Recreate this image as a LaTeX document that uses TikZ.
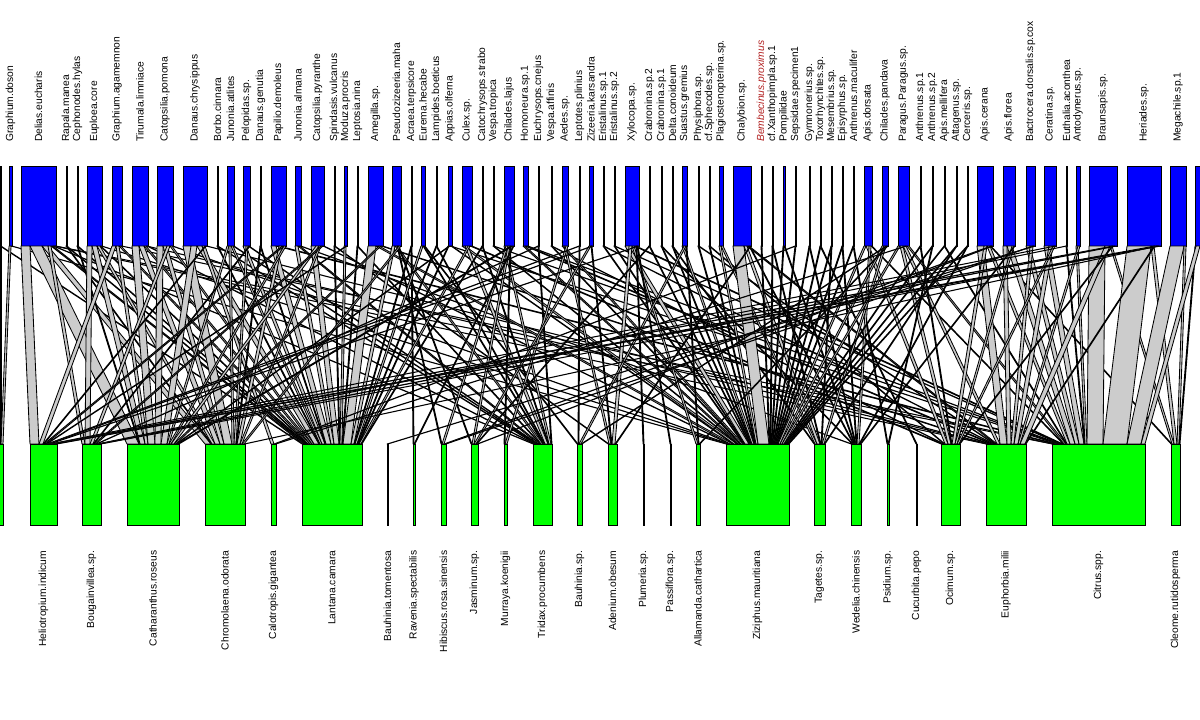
\documentclass[tikz,border=0pt]{standalone}
\usepackage{fontspec}
\setmainfont{Liberation Sans}
\usepackage{tikz}
\usetikzlibrary{calc}
\definecolor{hblue}{HTML}{0000FF}
\definecolor{hgreen}{HTML}{00FF00}
\definecolor{lgrey}{HTML}{CCCCCC}
\definecolor{bemb}{HTML}{B22222}

\begin{document}
\begin{tikzpicture}[x=0.025cm, y=-0.025cm]
    \tikzstyle{tb} = [draw=black, fill=hblue, inner sep=0pt, outer sep=0pt, line width=0.5pt, minimum height=2cm];
    \tikzstyle{bb} = [draw=black, fill=hgreen, inner sep=0pt, outer sep=0pt, line width=0.5pt, minimum height=2.025cm];
    \tikzstyle{tl} = [rotate=90, anchor=west, inner sep=0pt, font=\fontsize{7.3}{8.8}\selectfont];
    \tikzstyle{bl} = [rotate=90, anchor=east, inner sep=0pt, font=\fontsize{7.3}{8.8}\selectfont];
    \tikzstyle{lk} = [draw=black, fill=lgrey, line width=0.6pt, line join=round];
    \useasboundingbox (0,0) rectangle (1200,720);

    % visitors (top)
    \foreach \n/\l/\r/\s in {
      gph/0/1/{}, gdoson/9/12/Graphium.doson, delias/21/56/Delias.eucharis,
      rapala/66/67/Rapala.manea, cephon/77/78/Cephonodes.hylas,
      euploea/87/102/Euploea.core, gagam/112/122/Graphium.agamemnon,
      tirum/132/148/Tirumala.limniace, catpo/157/173/Catopsilia.pomona,
      danch/183/207/Danaus.chrysippus, borbo/217/218/Borbo.cinnara,
      junat/227/234/Junonia.atlites, pelop/243/250/Pelopidas.sp.,
      dange/260/261/Danaus.genutia, papdem/271/286/Papilio.demoleus,
      junal/295/301/Junonia.almana, catpy/311/324/Catopsilia.pyranthe,
      spind/334/335/Spindasis.vulcanus, moduza/344/347/Moduza.procris,
      leptos/357/358/Leptosia.nina, amegil/368/383/Amegilla.sp.,
      pseudo/392/401/Pseudozizeeria.maha, acraea/411/412/Acraea.terpsicore,
      eurema/421/425/Eurema.hecabe, lampid/436/437/Lampides.boeticus,
      appias/448/452/Appias.olferna, culex/462/472/Culex.sp.,
      catoch/482/483/Catochrysops.strabo, vtrop/493/494/Vespa.tropica,
      chilaj/504/514/Chilades.lajus, homon/523/528/Homoneura.sp.1,
      euchry/538/539/Euchrysops.cnejus, vaffin/551/552/Vespa.affinis,
      aedes/562/568/Aedes.sp., leptot/579/580/Leptotes.plinius,
      zizeer/589/593/Zizeeria.karsandra, eris1/603/604/Eristalinus.sp.1,
      eris2/614/615/Eristalinus.sp.2, xyloco/625/639/Xylocopa.sp.,
      crab2/649/650/Crabronina.sp.2, crab1/661/662/Crabronina.sp.1,
      delta/672/673/Delta.conoideum, suast/682/687/Suastus.gremius,
      physi/698/699/Physiphora.sp., sphec/709/710/cf.Sphecodes.sp.,
      plagio/719/723/Plagiostenopterina.sp., chalyb/733/751/Chalybion.sp.,
      bembe/761/762/{\color{bemb}\itshape Bembecinus.proximus},
      xantho/772/773/cf.Xanthopimpla.sp.1, pompil/783/785/Pompilidae,
      sepsid/795/796/Sepsidae.specimen1, gymno/809/810/Gymnonerius.sp.,
      toxor/820/821/Toxorhynchites.sp., mesem/831/832/Mesembrius.sp.,
      episy/842/843/Episyrphus.sp., anthm/853/854/Anthrenus.maculifer,
      apisd/864/872/Apis.dorsata, chipa/882/888/Chilades.pandava,
      paragus/898/909/Paragus.Paragus.sp., anth1/920/921/Anthrenus.sp.1,
      anth2/932/933/Anthrenus.sp.2, apismel/944/945/Apis.mellifera,
      attag/956/957/Attagenus.sp., cerce/967/968/Cerceris.sp.,
      apisce/977/993/Apis.cerana, apisfl/1003/1015/Apis.florea,
      bactro/1026/1035/Bactrocera.dorsalis.sp.cox, ceratina/1044/1056/Ceratina.sp.,
      euthal/1066/1067/Euthalia.aconthea, antody/1076/1080/Antodynerus.sp.,
      brauns/1089/1117/Braunsapis.sp., heriad/1127/1161/Heriades.sp.,
      megach/1170/1186/Megachile.sp.1, rt/1195/1205/{}}{
      \node (\n) at ({(\l+\r)/2},206) [tb, minimum width={(\r-\l)*0.025cm}] {};
      \node (\n-l) at ({(\l+\r)/2},142) [tl] {\s};
    }

    % plants (bottom)
    \foreach \n/\l/\r/\s in {
      lft/-5/3/{}, helio/30/57/Heliotropium.indicum, bouga/82/101/Bougainvillea.sp.,
      catha/127/179/Catharanthus.roseus, chrom/205/245/Chromolaena.odorata,
      calot/271/276/Calotropis.gigantea, lanta/302/362/Lantana.camara,
      bauto/387/388/Bauhinia.tomentosa, raven/413/415/Ravenia.spectabilis,
      hibis/441/446/Hibiscus.rosa.sinensis, jasmi/471/478/Jasminum.sp.,
      murra/504/507/Murraya.koenigii, tridax/533/552/Tridax.procumbens,
      bausp/577/582/Bauhinia.sp., adeni/608/617/Adenium.obesum,
      plume/643/644/Plumeria.sp., passi/670/671/Passiflora.sp.,
      allam/696/700/Allamanda.cathartica, zizip/726/789/Ziziphus.mauritiana,
      taget/814/825/Tagetes.sp., wedel/851/861/Wedelia.chinensis,
      psidi/887/889/Psidium.sp., cucur/916/917/Cucurbita.pepo,
      ocimu/941/960/Ocimum.sp., eupho/986/1026/Euphorbia.milii,
      citru/1052/1145/Citrus.spp., cleom/1171/1180/Cleome.rutidosperma}{
      \node (\n) at ({(\l+\r)/2},484.5) [bb, minimum width={(\r-\l)*0.025cm}] {};
      \node (\n-l) at ({(\l+\r)/2},550.5) [bl] {\s};
    }

    % interactions
    \begin{scope}
      \foreach \t/\a/\b/\c/\w in {
        gph/0/lanta/0/1, gph/0/lft/5/1, gdoson/0/lft/6/2, gdoson/2/zizip/0/1,
        delias/0/helio/0/9, delias/9/catha/0/12, delias/21/chrom/0/6, delias/27/bouga/0/3,
        delias/30/lanta/1/2, delias/32/tridax/0/1, delias/33/eupho/0/1, delias/34/citru/0/1,
        rapala/0/lanta/3/1, rapala/0/chrom/6/1, cephon/0/catha/12/1, cephon/0/lanta/4/1,
        euploea/0/bouga/3/5, euploea/5/catha/13/5, euploea/10/chrom/7/3, euploea/13/lanta/5/1,
        euploea/14/zizip/1/1,
        gagam/0/helio/9/4, gagam/4/catha/18/3, gagam/7/lanta/6/2, gagam/9/citru/1/1,
        tirum/0/catha/21/7, tirum/7/chrom/10/5, tirum/12/lanta/8/2, tirum/14/eupho/1/1,
        tirum/15/tridax/1/1,
        catpo/0/catha/28/6, catpo/6/chrom/15/4, catpo/10/bouga/8/3, catpo/13/lanta/10/2,
        catpo/15/zizip/2/1,
        danch/0/chrom/19/8, danch/8/catha/34/6, danch/14/lanta/12/5, danch/19/calot/0/3,
        danch/22/helio/13/1, danch/23/eupho/2/1,
        borbo/0/lanta/17/1, borbo/0/tridax/2/1,
        junat/0/catha/40/2, junat/2/chrom/27/2, junat/4/lanta/18/2, junat/6/tridax/3/1,
        pelop/0/lanta/20/3, pelop/3/chrom/29/2, pelop/5/tridax/4/1, pelop/6/bouga/11/1,
        dange/0/chrom/31/1, dange/0/lanta/23/1,
        papdem/0/lanta/24/5, papdem/5/citru/2/3, papdem/8/chrom/32/3, papdem/11/helio/14/2,
        papdem/13/catha/42/2,
        junal/0/lanta/29/3, junal/3/tridax/5/2, junal/5/wedel/0/1,
        catpy/0/lanta/32/5, catpy/5/catha/44/3, catpy/8/chrom/35/2, catpy/10/bouga/12/2,
        catpy/12/zizip/3/1,
        spind/0/lanta/37/1, spind/0/adeni/0/1, moduza/0/lanta/38/2, moduza/2/helio/16/1,
        leptos/0/lanta/40/1, leptos/0/tridax/7/1,
        amegil/0/lanta/41/8, amegil/8/zizip/4/3, amegil/11/catha/47/2, amegil/13/eupho/3/2,
        pseudo/0/lanta/49/3, pseudo/3/tridax/8/2, pseudo/5/hibis/0/1, pseudo/6/jasmi/0/1,
        pseudo/7/chrom/37/2,
        acraea/0/lanta/52/1, acraea/0/raven/0/1,
        eurema/0/lanta/53/2, eurema/2/tridax/10/1, eurema/3/bausp/0/1,
        lampid/0/lanta/55/1, lampid/0/tridax/11/1,
        appias/0/lanta/56/1, appias/1/catha/49/1, appias/2/citru/5/1, appias/3/zizip/7/1,
        culex/0/zizip/8/3, culex/3/tridax/12/3, culex/6/lanta/57/2, culex/8/ocimu/0/2,
        catoch/0/tridax/15/1, catoch/0/lanta/59/1, vtrop/0/zizip/11/1, vtrop/0/citru/6/1,
        chilaj/0/tridax/16/2, chilaj/2/hibis/1/2, chilaj/4/jasmi/1/2, chilaj/6/murra/0/1,
        chilaj/7/catha/50/2, chilaj/9/raven/1/1,
        homon/0/zizip/12/2, homon/2/eupho/5/2, homon/4/citru/7/1,
        euchry/0/tridax/18/1, euchry/0/bouga/14/1, vaffin/0/zizip/14/1, vaffin/0/ocimu/2/1,
        aedes/0/zizip/15/2, aedes/2/adeni/1/2, aedes/4/murra/1/2,
        leptot/0/bausp/1/1, leptot/0/helio/17/1,
        zizeer/0/jasmi/3/2, zizeer/2/adeni/3/1, zizeer/3/helio/18/1,
        eris1/0/zizip/17/1, eris1/0/eupho/7/1, eris2/0/zizip/18/1, eris2/0/citru/8/1,
        xyloco/0/zizip/19/4, xyloco/4/adeni/4/3, xyloco/7/allam/0/2, xyloco/9/citru/9/2,
        xyloco/11/plume/0/1, xyloco/12/passi/0/1, xyloco/13/helio/19/1,
        crab2/0/zizip/23/1, crab2/0/jasmi/5/1, crab1/0/zizip/24/1, crab1/0/wedel/1/1,
        delta/0/zizip/25/1, delta/0/taget/0/1,
        suast/0/zizip/26/2, suast/2/bausp/2/2, suast/4/allam/2/1,
        physi/0/zizip/28/1, physi/0/eupho/8/1, sphec/0/zizip/29/1, sphec/0/ocimu/3/1,
        plagio/0/zizip/30/2, plagio/2/taget/1/2,
        chalyb/0/zizip/32/11, chalyb/11/taget/3/3, chalyb/14/eupho/9/2, chalyb/16/wedel/2/1,
        chalyb/17/adeni/7/1,
        bembe/0/zizip/43/1, xantho/0/zizip/44/1, xantho/0/taget/6/1,
        pompil/0/zizip/45/1, pompil/1/wedel/3/1,
        sepsid/0/zizip/46/1, sepsid/0/calot/3/1, gymno/0/zizip/47/1, gymno/0/wedel/4/1,
        toxor/0/zizip/48/1, toxor/0/cucur/0/1, mesem/0/zizip/49/1, mesem/0/taget/7/1,
        episy/0/zizip/50/1, episy/0/wedel/5/1, anthm/0/zizip/51/1, anthm/0/psidi/0/1,
        apisd/0/zizip/52/2, apisd/2/ocimu/4/3, apisd/5/wedel/6/2, apisd/7/citru/11/1,
        chipa/0/zizip/54/2, chipa/2/taget/8/2, chipa/4/bausp/4/1, chipa/5/allam/3/1,
        paragus/0/zizip/56/2, paragus/2/ocimu/7/3, paragus/5/eupho/11/3, paragus/8/calot/4/1,
        paragus/9/citru/12/2,
        anth1/0/zizip/58/1, anth1/0/ocimu/10/1, anth2/0/zizip/59/1, anth2/0/psidi/1/1,
        apismel/0/zizip/60/1, apismel/0/citru/14/1, attag/0/zizip/61/1, attag/0/taget/10/1,
        cerce/0/zizip/62/1, cerce/0/wedel/8/1,
        apisce/0/eupho/14/7, apisce/7/ocimu/11/3, apisce/10/citru/15/3, apisce/13/cleom/0/1,
        apisce/14/hibis/3/1, apisce/15/jasmi/6/1,
        apisfl/0/eupho/21/4, apisfl/4/citru/18/5, apisfl/9/ocimu/14/2, apisfl/11/wedel/9/1,
        bactro/0/citru/23/4, bactro/4/eupho/25/3, bactro/7/hibis/4/1, bactro/8/bauto/0/1,
        ceratina/0/citru/27/5, ceratina/5/eupho/28/4, ceratina/9/ocimu/16/2,
        ceratina/11/helio/20/1,
        euthal/0/citru/32/1, euthal/0/bouga/15/1, antody/0/citru/33/2, antody/2/eupho/32/2,
        brauns/0/citru/35/16, brauns/16/eupho/34/5, brauns/21/cleom/1/2, brauns/23/ocimu/18/1,
        brauns/24/helio/21/2, brauns/26/bouga/16/2,
        heriad/0/citru/51/24, heriad/24/cleom/3/3, heriad/27/eupho/39/1, heriad/28/helio/23/2,
        heriad/30/chrom/39/1, heriad/31/bouga/18/1, heriad/32/helio/25/2,
        megach/0/citru/75/14, megach/14/cleom/6/2,
        rt/0/cleom/8/1, rt/1/citru/89/4}
        \filldraw[lk] ($(\t.south west)+(\a,0)$) -- ++(\w,0)
          -- ($(\b.north west)+(\c+\w,0)$) -- ++(-\w,0) -- cycle;
    \end{scope}
\end{tikzpicture}
\end{document}
